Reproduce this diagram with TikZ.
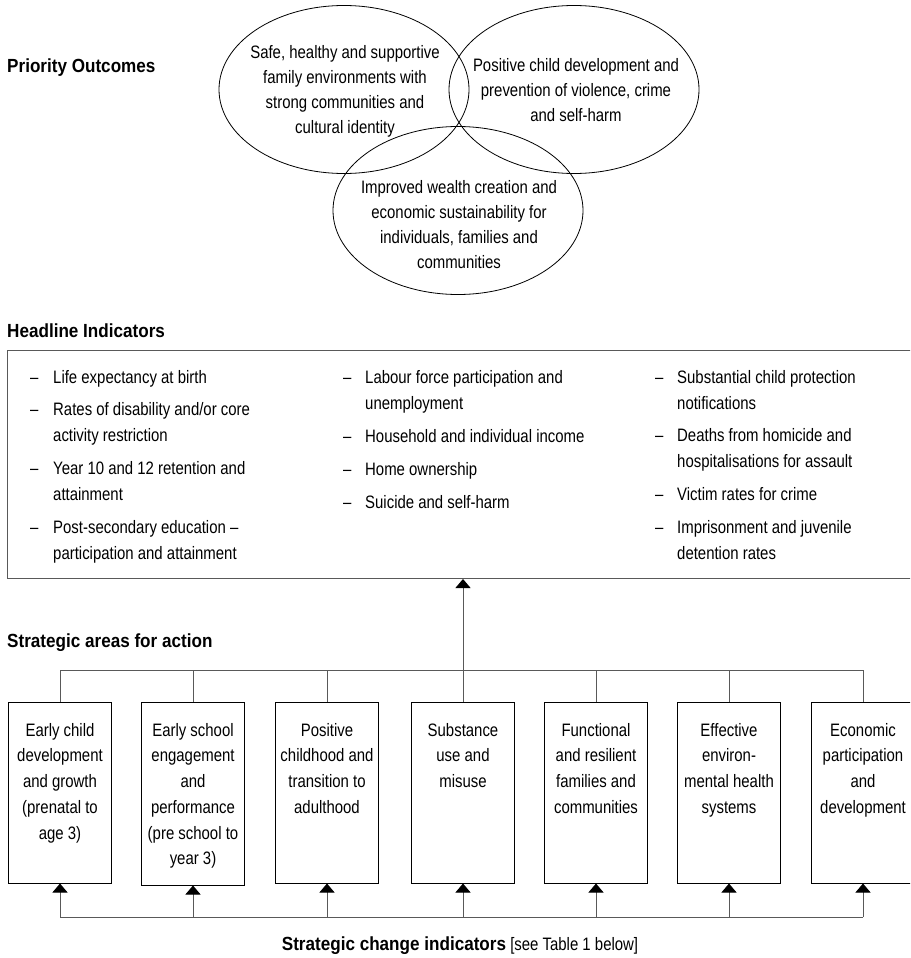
\documentclass[tikz,border=0pt]{standalone}
\usepackage{fontspec}
\setmainfont[FakeStretch=0.83]{Liberation Sans}
\newfontfamily\titlefont[FakeStretch=0.9]{Liberation Sans}
\usetikzlibrary{shapes.geometric,arrows.meta}
\begin{document}
\begin{tikzpicture}[x=1pt,y=-1pt,
  oval/.style={ellipse,draw,line width=0.8pt,minimum width=250pt,minimum height=168pt,inner sep=0pt},
  ctext/.style={font=\fontsize{18pt}{25pt}\selectfont,inner sep=0pt,align=center,anchor=north},
  title/.style={font=\titlefont\bfseries\fontsize{19pt}{23pt}\selectfont,inner sep=0pt,anchor=base west},
  hitem/.style={font=\fontsize{18pt}{26pt}\selectfont,inner sep=0pt,align=left,anchor=north west},
  hdash/.style={font=\fontsize{18pt}{26pt}\selectfont,inner sep=0pt,anchor=base west,yshift=-13pt},
  sbox/.style={draw,line width=1pt,minimum width=103pt,minimum height=181pt,inner sep=0pt},
  stext/.style={font=\fontsize{18pt}{25.7pt}\selectfont,inner sep=0pt,align=center,anchor=north},
  conn/.style={draw=black!65,line width=1pt},
  tip/.style={-{Triangle[width=15pt,length=9pt,color=black]}}
]
\useasboundingbox (0,0) rectangle (910,958);
\clip (0,0) rectangle (910,958);

% titles
\node[title] (tPO) at (7,73) {Priority Outcomes};
\node[title] (tHI) at (7,337) {Headline Indicators};
\node[title] (tSA) at (7,647) {Strategic areas for action};
\node[font=\fontsize{18pt}{25pt}\selectfont,inner sep=0pt,anchor=base] (tSC) at (460,950)
  {{\titlefont\bfseries\fontsize{19pt}{23pt}\selectfont Strategic change indicators} [see Table 1 below]};

% priority outcomes
\node[oval] (e1) at (344,89.5) {};
\node[oval] (e2) at (574,89.5) {};
\node[oval] (e3) at (458,210.5) {};
\node[ctext] (e1t) at (345,45) {Safe, healthy and supportive\\family environments with\\strong communities and\\cultural identity};
\node[ctext] (e2t) at (576,58) {Positive child development and\\prevention of violence, crime\\and self-harm};
\node[ctext] (e3t) at (459,180) {Improved wealth creation and\\economic sustainability for\\individuals, families and\\communities};

% headline indicators
\node[draw=black!65,line width=1pt,anchor=north west,minimum width=908pt,minimum height=228pt,inner sep=0pt] (hbox) at (7,350) {};
\node[hdash] (da1) at (30,370) {\textendash};
\node[hitem] (ha1) at (53,370) {Life expectancy at birth};
\node[hdash] (da2) at (30,402) {\textendash};
\node[hitem] (ha2) at (53,402) {Rates of disability and/or core\\activity restriction};
\node[hdash] (da3) at (30,461) {\textendash};
\node[hitem] (ha3) at (53,461) {Year 10 and 12 retention and\\attainment};
\node[hdash] (da4) at (30,520) {\textendash};
\node[hitem] (ha4) at (53,520) {Post-secondary education \textendash\\participation and attainment};

\node[hdash] (db1) at (343,370) {\textendash};
\node[hitem] (hb1) at (365,370) {Labour force participation and\\unemployment};
\node[hdash] (db2) at (343,429) {\textendash};
\node[hitem] (hb2) at (365,429) {Household and individual income};
\node[hdash] (db3) at (343,462) {\textendash};
\node[hitem] (hb3) at (365,462) {Home ownership};
\node[hdash] (db4) at (343,495) {\textendash};
\node[hitem] (hb4) at (365,495) {Suicide and self-harm};

\node[hdash] (dc1) at (655,370) {\textendash};
\node[hitem] (hc1) at (677,370) {Substantial child protection\\notifications};
\node[hdash] (dc2) at (655,428) {\textendash};
\node[hitem] (hc2) at (677,428) {Deaths from homicide and\\hospitalisations for assault};
\node[hdash] (dc3) at (655,487) {\textendash};
\node[hitem] (hc3) at (677,487) {Victim rates for crime};
\node[hdash] (dc4) at (655,520) {\textendash};
\node[hitem] (hc4) at (677,520) {Imprisonment and juvenile\\detention rates};

% strategic areas
\node[sbox] (s1) at (60,792.5) {};
\node[sbox,minimum height=183pt] (s2) at (193,793.5) {};
\node[sbox] (s3) at (327,792.5) {};
\node[sbox] (s4) at (463,792.5) {};
\node[sbox] (s5) at (596,792.5) {};
\node[sbox] (s6) at (729,792.5) {};
\node[sbox] (s7) at (863,792.5) {};
\node[stext] (s1t) at (60,723) {Early child\\development\\and growth\\(prenatal to\\age 3)};
\node[stext] (s2t) at (193,723) {Early school\\engagement\\and\\performance\\(pre school to\\year 3)};
\node[stext] (s3t) at (327,723) {Positive\\childhood and\\transition to\\adulthood};
\node[stext] (s4t) at (463,723) {Substance\\use and\\misuse};
\node[stext] (s5t) at (596,723) {Functional\\and resilient\\families and\\communities};
\node[stext] (s6t) at (729,723) {Effective\\environ-\\mental health\\systems};
\node[stext] (s7t) at (863,723) {Economic\\participation\\and\\development};

% connectors
\coordinate (tbus) at (0,670);
\coordinate (bbus) at (0,917);
\draw[conn] (s1.north) -- (s1.north |- tbus) -- (s7.north |- tbus) -- (s7.north);
\foreach \i in {2,...,6} {\draw[conn] (s\i.north) -- (s\i.north |- tbus);}
\draw[conn,tip] (s4.north |- tbus) -- (s4.north |- hbox.south);
\draw[conn] (s1.south |- bbus) -- (s7.south |- bbus);
\foreach \i in {1,...,7} {\draw[conn,tip] (s\i.south |- bbus) -- (s\i.south);}
\end{tikzpicture}
\end{document}
